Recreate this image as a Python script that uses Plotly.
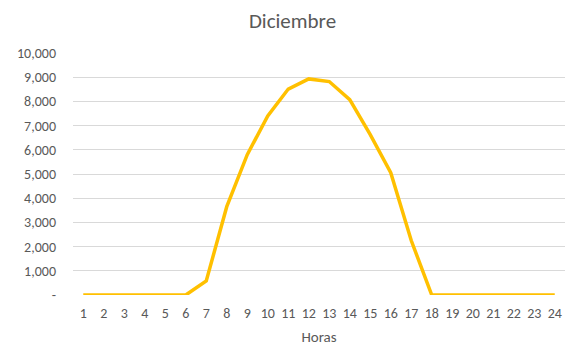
import plotly.graph_objects as go

hours = [str(h) for h in range(1, 25)]
values = [0, 0, 0, 0, 0, 0, 580, 3650, 5800, 7400, 8510, 8930, 8820, 8070,
          6630, 5050, 2250, 0, 0, 0, 0, 0, 0, 0]
ytick_vals = [0, 1000, 2000, 3000, 4000, 5000, 6000, 7000, 8000, 9000, 10000]
ytick_text = ["-", "1,000", "2,000", "3,000", "4,000", "5,000", "6,000",
              "7,000", "8,000", "9,000", "10,000"]

FONT = "Calibri, Carlito, Lato, sans-serif"
GREY = "#595959"

fig = go.Figure()
fig.add_trace(go.Scatter(
    x=hours, y=values, mode="lines",
    line=dict(color="#FFC000", width=3.5),
    hoverinfo="x+y",
))

fig.update_layout(
    width=571, height=347,
    margin=dict(l=73, r=6, t=53, b=51.5, autoexpand=False),
    paper_bgcolor="white", plot_bgcolor="white",
    font=dict(family=FONT, color=GREY, size=14),
    showlegend=False,
    title=dict(text="Diciembre", x=292.5 / 571, xref="container", xanchor="center",
               y=1 - 21 / 347, yanchor="middle", yref="container",
               font=dict(size=21, color=GREY, family=FONT)),
)

fig.update_xaxes(
    type="category", range=[-0.5, 23.5], automargin=False,
    showgrid=False, zeroline=False, showline=False, ticks="",
    ticklabelstandoff=8,
    tickfont=dict(size=14, color=GREY),
    title=dict(text="Horas", font=dict(size=15, color=GREY), standoff=10),
)
fig.update_yaxes(
    range=[0, 10000], tickvals=ytick_vals, ticktext=ytick_text, automargin=False,
    showgrid=True, gridcolor="#D9D9D9", gridwidth=1,
    zeroline=False, showline=False, ticks="",
    ticklabelstandoff=16,
    tickfont=dict(size=14, color=GREY),
)

fig.write_html("out.html",
               config={"displayModeBar": False},
               post_script="document.body.style.margin='0';document.body.style.padding='0';")
